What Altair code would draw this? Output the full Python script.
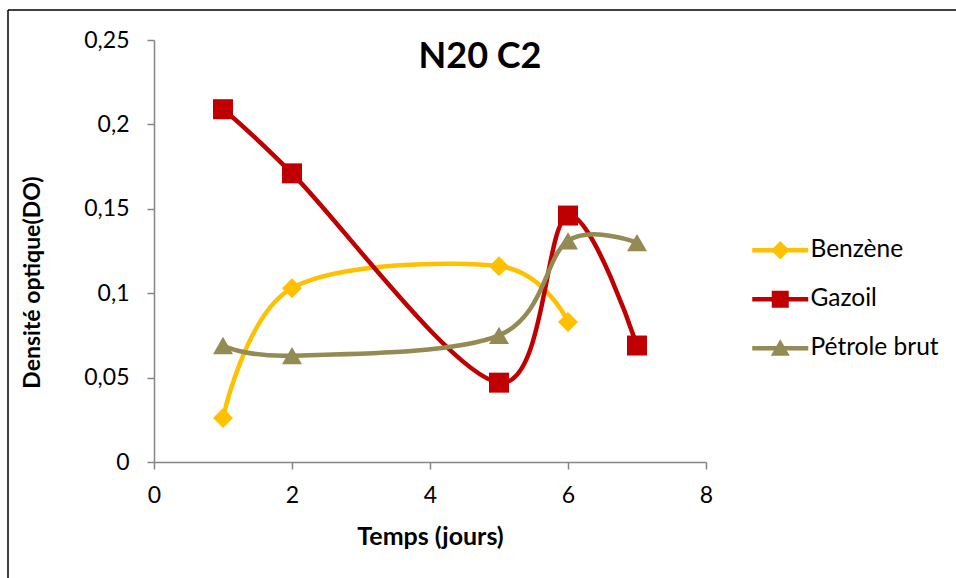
import altair as alt
import pandas as pd

# ---- data ----
jours = [1, 2, 5, 6, 7]
series = ["Benzène", "Gazoil", "Pétrole brut"]
benzene = [0.026, 0.103, 0.116, 0.083, None]
gazoil = [0.209, 0.171, 0.047, 0.146, 0.069]
petrole = [0.069, 0.063, 0.075, 0.131, 0.130]
x_ticks = [0, 2, 4, 6, 8]
y_ticks = [0, 0.05, 0.1, 0.15, 0.2, 0.25]
titre = "N20 C2"

colors = ["#FFC000", "#C00000", "#948A54"]
shapes = ["diamond", "square", "triangle-up"]
legend_shapes = [
    "M-2.8,-0.22H-0.7L0,-0.92L0.7,-0.22H2.8V0.22H0.7L0,0.92L-0.7,0.22H-2.8Z",
    "M-2.8,-0.22H-0.85V-0.85H0.85V-0.22H2.8V0.22H0.85V0.85H-0.85V0.22H-2.8Z",
    "M-2.8,-0.22H-0.39L0,-0.9L0.39,-0.22H2.8V0.22H0.645L0.95,0.75H-0.95L-0.645,0.22H-2.8Z",
]

rows = []
for name, vals in zip(series, [benzene, gazoil, petrole]):
    for j, v in zip(jours, vals):
        if v is not None:
            rows.append({"Temps": j, "DO": v, "Série": name})
df = pd.DataFrame(rows)

FONT = "Lato"
AXIS_COMMON = dict(
    grid=False, domainColor="#868686", tickColor="#868686", domainWidth=1.5,
    tickWidth=1.5, tickSize=7, labelColor="black", titleColor="black",
    labelFont=FONT, titleFont=FONT, labelFontSize=23,
    titleFontWeight="bold", labelFlush=False,
)

x_enc = alt.X(
    "Temps:Q",
    scale=alt.Scale(domain=[0, 8], nice=False),
    axis=alt.Axis(
        values=x_ticks, format="d",
        title="Temps (jours)", titleFontSize=25,
        titleX=276, titleY=74, titleBaseline="middle",
        labelPadding=15, **AXIS_COMMON,
    ),
)
y_enc = alt.Y(
    "DO:Q",
    scale=alt.Scale(domain=[0, 0.25], nice=False),
    axis=alt.Axis(
        values=y_ticks,
        labelExpr="replace(format(datum.value, '~g'), '.', ',')",
        title="Densité optique(DO)", titleFontSize=23,
        titleX=-122, titleY=242, titleBaseline="middle", titleAlign="center",
        labelPadding=18, **AXIS_COMMON,
    ),
)

color_scale = alt.Scale(domain=series, range=colors)

base = alt.Chart(df)

lines = base.mark_line(
    interpolate="cardinal", tension=0, strokeWidth=4.5, strokeCap="round"
).encode(
    x=x_enc, y=y_enc,
    color=alt.Color("Série:N", scale=color_scale, legend=None),
    detail="Série:N",
)

points = base.mark_point(filled=True, opacity=1, size=400).encode(
    x="Temps:Q", y="DO:Q",
    color=alt.Color("Série:N", scale=color_scale, legend=None),
    shape=alt.Shape("Série:N", scale=alt.Scale(domain=series, range=shapes), legend=None),
)

leg = dict(
    title=None, orient="none", legendX=614, legendY=198,
    symbolSize=400, symbolOpacity=1, symbolStrokeWidth=0,
    labelFontSize=24.5, labelOffset=18, rowPadding=24, padding=0,
    labelFont=FONT, labelColor="black",
)
legend_layer = base.mark_point(filled=True, opacity=0).encode(
    x="Temps:Q", y="DO:Q",
    color=alt.Color("Série:N", scale=color_scale, legend=alt.Legend(**leg)),
    shape=alt.Shape(
        "Série:N", scale=alt.Scale(domain=series, range=legend_shapes),
        legend=alt.Legend(**leg),
    ),
)

frame_data = alt.Data(values=[{"k": 1}])
frame_top = alt.Chart(frame_data).mark_rule(color="black", strokeWidth=1.5).encode(
    x=alt.value(-146), x2=alt.value(802), y=alt.value(-30)
)
frame_left = alt.Chart(frame_data).mark_rule(color="black", strokeWidth=1.5).encode(
    x=alt.value(-146), y=alt.value(-30), y2=alt.value(540)
)
title_layer = alt.Chart(alt.Data(values=[{"t": titre}])).mark_text(
    font=FONT, fontSize=36, fontWeight="bold", color="black",
    align="center", baseline="alphabetic",
).encode(x=alt.value(326), y=alt.value(28), text="t:N")

chart = alt.layer(
    frame_top, frame_left, title_layer, lines, points, legend_layer
).resolve_scale(
    shape="independent", color="independent"
).properties(
    width=552,
    height=422,
    autosize=alt.AutoSizeParams(type="none"),
    padding={"left": 154, "top": 40, "right": 250, "bottom": 116},
).configure(
    background="white", view=alt.ViewConfig(stroke=None)
)

chart.save("out.html", embed_options={"renderer": "svg", "actions": False})
